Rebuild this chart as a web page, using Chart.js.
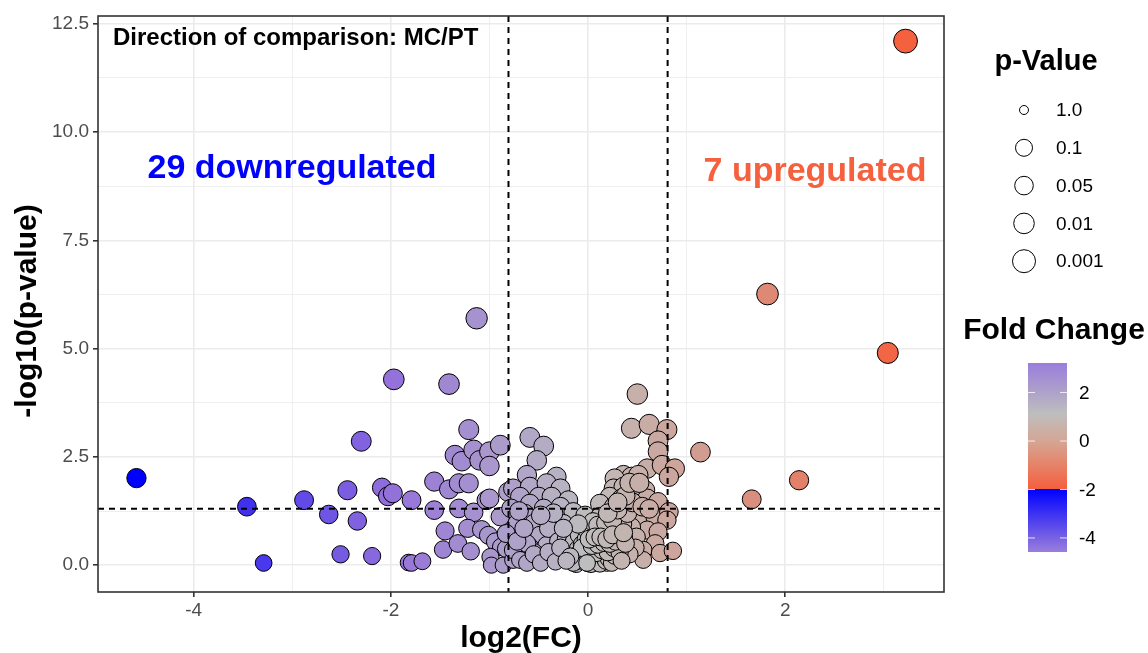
<!DOCTYPE html>
<html lang="en">
<head>
  <meta charset="UTF-8">
  <title>Volcano plot MC/PT</title>
  <script src="https://cdn.jsdelivr.net/npm/chart.js"></script>
  <style>
    html, body { margin: 0; padding: 0; background: #fff; }
    #wrap { width: 1148px; height: 653px; position: relative; }
  </style>
</head>
<body>
  <div id="wrap"><canvas id="volcano"></canvas></div>

  <script>
    // log2 fold change per feature
    const logFC = [
      3.22, 1.82, 3.04, 1.14, 2.14, 1.66, 0.50,
      -4.58, -3.46, -3.29, -2.88, -2.63, -2.44, -2.34, -2.30, -2.51, -2.19, -2.09, -2.03, -1.98,
      -1.97, -1.79, -1.82, -1.79, -1.68, -1.41, -1.13, -1.21,
      -1.56, -1.41, -1.31, -1.21, -1.56, -1.31, -1.16, -1.45, -1.22, -1.47, -1.32, -1.19,
      -1.35, -1.28, -1.16, -1.10, -1.00, -1.00, -0.89, -1.03, -1.00, -0.89,
      -1.08, -1.01, -0.94, -0.88, -0.99, -0.98, -0.86, -0.83, -0.81, -0.76,
      -0.59, -0.45, -0.52, -0.62, -0.32, -0.76, -0.59, -0.42, -0.28, -0.69, -0.50, -0.37, -0.20,
      -0.59, -0.78, -0.64, -0.45, -0.28, -0.15, -0.03, -0.72, -0.55, -0.39, -0.25,
      -0.83, -0.66, -0.49, -0.32, -0.15, -0.59, -0.42, -0.25, -0.76, -0.69, -0.52, -0.35, -0.22, -0.08,
      -0.45, -0.40, -0.35, -0.48, -0.55, -0.62, -0.70, -0.72, -0.65,
      0.44, 0.62, 0.80, 0.71, 0.71, 0.60, 0.75, 0.88, 0.82, 0.36, 0.44, 0.51, 0.27,
      0.26, 0.36, 0.46, 0.58, 0.22, 0.34, 0.48, 0.60, 0.71, 0.12, 0.26, 0.39,
      0.53, 0.68, 0.82, 0.80, 0.12, 0.32, 0.60, 0.44, 0.22, 0.71, 0.49, 0.68, 0.56, 0.73, 0.86, 0.56,
      0.36, 0.22, 0.32,
      -0.30, -0.26, -0.22, -0.20, -0.18, -0.15, -0.14, -0.12, -0.10, -0.09, -0.07, -0.06, -0.04,
      -0.03, -0.02, 0.00, 0.01, 0.02, 0.03, 0.04, 0.05, 0.06, 0.07, 0.08, 0.09, 0.10, 0.11, 0.12,
      0.13, 0.14, 0.15, 0.16, 0.17, 0.18, 0.19, 0.20, 0.21, 0.23, 0.24, 0.25, 0.27, 0.28, 0.30,
      0.31, 0.33, 0.35, -0.02, 0.05, -0.10, 0.10, 0.18, 0.25, -0.25, 0.40, 0.30, 0.20, 0.45,
      0.38, 0.30, 0.42, 0.52, 0.55, 0.62, 0.48, 0.42,
      -0.62, -0.55, -0.48, -0.40, -0.33, -0.28,
      -0.12, -0.08, -0.05, 0.00, 0.03, 0.06, 0.09, 0.12, 0.15, 0.18,
      0.21, 0.24, 0.27, -0.10, -0.04, 0.02, 0.08, 0.14, 0.20, 0.26,
      0.32, -0.06, 0.04, 0.10, 0.16, 0.22, 0.28, 0.01, 0.07, 0.13,
      0.19, 0.25, -0.15, -0.18, 0.34, 0.38, -0.22, 0.36,
      -0.01
    ];

    // -log10(p-value) per feature, same order
    const negLogP = [
      12.10, 6.26, 4.90, 2.61, 1.96, 1.52, 3.95,
      2.01, 1.35, 0.05, 1.50, 1.17, 1.73, 1.02, 2.86, 0.25, 0.21, 1.79, 1.59, 1.66,
      4.29, 1.50, 0.06, 0.05, 0.09, 4.18, 5.70, 3.13,
      1.93, 1.75, 1.89, 1.89, 1.27, 1.31, 1.22, 0.79, 0.85, 0.36, 0.50, 0.32,
      2.54, 2.40, 2.66, 2.42, 2.62, 2.29, 2.77, 1.50, 1.54, 1.12,
      0.82, 0.69, 0.54, 0.42, 0.19, 0.00, 0.00, 0.38, 1.69, 0.12,
      2.95, 2.75, 2.42, 2.08, 2.04, 1.77, 1.81, 1.89, 1.77, 1.58, 1.58, 1.58, 1.50,
      1.42, 1.31, 1.19, 1.31, 1.35, 1.23, 1.15, 0.96, 0.96, 1.04, 0.96,
      0.73, 0.65, 0.69, 0.73, 0.81, 0.42, 0.46, 0.50, 0.35, 0.12, 0.12, 0.19, 0.23, 0.12,
      0.20, 0.85, 1.20, 1.15, 0.30, 0.50, 1.25, 0.55, 0.85,
      3.16, 3.25, 3.13, 2.87, 2.62, 2.23, 2.31, 2.23, 2.04, 2.08, 2.04, 2.08, 2.00,
      1.77, 1.81, 1.77, 1.73, 1.58, 1.54, 1.54, 1.54, 1.46, 1.42, 1.35, 1.35,
      1.12, 1.12, 1.23, 1.04, 1.12, 1.12, 0.81, 0.88, 0.88, 0.77, 0.65, 0.50, 0.35, 0.28, 0.33, 0.12,
      0.65, 0.58, 0.35,
      0.55, 0.35, 0.62, 0.15, 0.42, 0.28, 0.55, 0.08, 0.38, 0.70, 0.20, 0.48, 0.10,
      0.32, 0.60, 0.04, 0.22, 0.42, 0.12, 0.68, 0.30, 0.05, 0.52, 0.18, 0.36, 0.08, 0.62, 0.26,
      0.45, 0.12, 0.78, 0.33, 0.55, 0.20, 0.05, 0.40, 0.68, 0.28, 0.12, 0.50, 0.85, 0.35, 0.18,
      0.62, 0.45, 0.95, 0.85, 1.00, 0.95, 0.92, 0.98, 1.05, 0.85, 1.20, 1.28, 1.20, 1.45,
      1.60, 1.45, 1.90, 1.90, 1.35, 1.30, 0.40, 0.25,
      0.05, 0.25, 0.05, 0.30, 0.08, 0.40,
      0.02, 0.10, 0.15, 0.12, 0.02, 0.20, 0.10, 0.03, 0.22, 0.10,
      0.15, 0.05, 0.22, 0.25, 0.30, 0.30, 0.28, 0.35, 0.30, 0.40,
      0.30, 0.40, 0.45, 0.48, 0.52, 0.50, 0.55, 0.60, 0.65, 0.65,
      0.60, 0.70, 0.05, 0.20, 0.10, 0.50, 0.10, 0.75,
      0.05
    ];

    const xTicks = [-4, -2, 0, 2];
    const xMinorTicks = [-3, -1, 1, 3];
    const yTicks = [0, 2.5, 5, 7.5, 10, 12.5];
    const yMinorTicks = [1.25, 3.75, 6.25, 8.75, 11.25];

    const fcCut = 0.807;   // fold change threshold (log2)
    const pCut = 1.301;    // -log10(0.05)

    const nDown = 29;
    const nUp = 7;

    const pLegendLabels = ['1.0', '0.1', '0.05', '0.01', '0.001'];
    const fcLegendTicks = [2, 0, -2, -4];

    const FONT = "'Liberation Sans', Arial, Helvetica, sans-serif";

    // colour ramp for the fill (by log2FC)
    const ramp = [
      [-4.58, [0, 0, 255]],
      [-2.0, [147, 112, 219]],
      [0.0, [190, 190, 190]],
      [3.22, [245, 97, 63]]
    ];
    function fcColor(v) {
      if (v <= ramp[0][0]) return 'rgb(' + ramp[0][1].join(',') + ')';
      for (let i = 1; i < ramp.length; i++) {
        if (v <= ramp[i][0]) {
          const t = (v - ramp[i - 1][0]) / (ramp[i][0] - ramp[i - 1][0]);
          const a = ramp[i - 1][1], b = ramp[i][1];
          const c = a.map((q, k) => Math.round(q + (b[k] - q) * t));
          return 'rgb(' + c.join(',') + ')';
        }
      }
      return 'rgb(' + ramp[ramp.length - 1][1].join(',') + ')';
    }

    function pointSize(y) {
      return 8.1 + 1.1 * Math.sqrt(Math.max(y, 0));
    }

    const points = logFC.map((x, i) => ({ x: x, y: negLogP[i] }));

    // extra drawing: panel border, dashed cut-offs, labels, legends
    const decorPlugin = {
      id: 'decor',
      afterDatasetsDraw(chart) {
        const { ctx, chartArea: a, scales } = chart;
        ctx.save();
        ctx.strokeStyle = '#000';
        ctx.lineWidth = 2;
        ctx.setLineDash([6, 5]);
        [-fcCut, fcCut].forEach(v => {
          const px = scales.x.getPixelForValue(v);
          ctx.beginPath();
          ctx.moveTo(px, a.top);
          ctx.lineTo(px, a.bottom);
          ctx.stroke();
        });
        const py = scales.y.getPixelForValue(pCut);
        ctx.beginPath();
        ctx.moveTo(a.left, py);
        ctx.lineTo(a.right, py);
        ctx.stroke();
        ctx.restore();
      },
      afterDraw(chart) {
        const { ctx, chartArea: a } = chart;
        ctx.save();
        // panel border
        ctx.strokeStyle = '#333';
        ctx.lineWidth = 1.6;
        ctx.strokeRect(a.left, a.top, a.right - a.left, a.bottom - a.top);

        // annotations
        ctx.textBaseline = 'middle';
        ctx.fillStyle = '#000';
        ctx.font = 'bold 24px ' + FONT;
        ctx.textAlign = 'left';
        ctx.fillText('Direction of comparison: MC/PT', 113, 38);

        ctx.font = 'bold 34px ' + FONT;
        ctx.textAlign = 'center';
        ctx.fillStyle = '#0000FF';
        ctx.fillText(nDown + ' downregulated', 292, 169);
        ctx.fillStyle = '#F5603E';
        ctx.fillText(nUp + ' upregulated', 815, 172);

        // axis titles
        ctx.fillStyle = '#000';
        ctx.font = 'bold 30px ' + FONT;
        ctx.fillText('log2(FC)', (a.left + a.right) / 2, 639);
        ctx.save();
        ctx.translate(28, 311);
        ctx.rotate(-Math.PI / 2);
        ctx.fillText('-log10(p-value)', 0, 0);
        ctx.restore();

        // p-value size legend
        ctx.font = 'bold 29px ' + FONT;
        ctx.fillText('p-Value', 1046, 62);
        const legR = [4.5, 8.5, 9.3, 10.3, 11.5];
        ctx.font = '19px ' + FONT;
        ctx.textAlign = 'left';
        pLegendLabels.forEach((lab, i) => {
          const cy = 110 + i * 37.8;
          ctx.beginPath();
          ctx.arc(1024, cy, legR[i], 0, Math.PI * 2);
          ctx.strokeStyle = '#000';
          ctx.lineWidth = 1;
          ctx.stroke();
          ctx.fillText(lab, 1056, cy + 1);
        });

        // fold change colour bar
        ctx.textAlign = 'center';
        ctx.font = 'bold 30px ' + FONT;
        ctx.fillText('Fold Change', 1054, 331);
        const bx = 1028, bw = 39, bt = 363, bb = 552;
        const g = ctx.createLinearGradient(0, bt, 0, bb);
        g.addColorStop(0, '#9A7EDC');
        g.addColorStop(0.14, '#AC9ECB');
        g.addColorStop(0.27, '#BEBEBE');
        g.addColorStop(0.42, '#D6A491');
        g.addColorStop(0.664, '#F5603E');
        g.addColorStop(0.666, '#0000FF');
        g.addColorStop(1, '#9A7EDC');
        ctx.fillStyle = g;
        ctx.fillRect(bx, bt, bw, bb - bt);
        const vMax = Math.max(...logFC), vMin = Math.min(...logFC);
        ctx.font = '19px ' + FONT;
        ctx.textAlign = 'left';
        fcLegendTicks.forEach(v => {
          const ty = bt + (vMax - v) / (vMax - vMin) * (bb - bt);
          ctx.strokeStyle = 'rgba(255,255,255,0.8)';
          ctx.lineWidth = 1;
          ctx.beginPath();
          ctx.moveTo(bx, ty); ctx.lineTo(bx + 7, ty);
          ctx.moveTo(bx + bw - 7, ty); ctx.lineTo(bx + bw, ty);
          ctx.stroke();
          ctx.fillStyle = '#000';
          ctx.fillText(String(v), 1079, ty + 1);
        });
        ctx.restore();
      }
    };

    const isMajor = (list, v) => list.some(t => Math.abs(t - v) < 1e-9);

    new Chart(document.getElementById('volcano').getContext('2d'), {
      type: 'scatter',
      data: {
        datasets: [{
          data: points,
          backgroundColor: c => fcColor(c.raw ? c.raw.x : 0),
          borderColor: '#000',
          borderWidth: 1,
          pointRadius: c => pointSize(c.raw ? c.raw.y : 0),
          pointHoverRadius: c => pointSize(c.raw ? c.raw.y : 0)
        }]
      },
      options: {
        responsive: true,
        maintainAspectRatio: false,
        animation: false,
        events: [],
        layout: { padding: { left: 0, top: 16, right: 204, bottom: 0 } },
        plugins: { legend: { display: false }, tooltip: { enabled: false } },
        scales: {
          x: {
            type: 'linear',
            min: -4.97,
            max: 3.61,
            afterBuildTicks: s => { s.ticks = xTicks.concat(xMinorTicks).map(v => ({ value: v })); },
            afterFit: s => { s.height = 61; },
            border: { display: false },
            grid: {
              color: '#EBEBEB',
              lineWidth: c => isMajor(xTicks, c.tick.value) ? 1.6 : 0.8,
              tickColor: c => isMajor(xTicks, c.tick.value) ? '#333' : 'rgba(0,0,0,0)',
              tickLength: 5,
              drawTicks: true
            },
            ticks: {
              autoSkip: false,
              maxRotation: 0,
              padding: 2,
              color: '#4D4D4D',
              font: { family: FONT, size: 19 },
              callback: v => isMajor(xTicks, v) ? String(v) : ''
            }
          },
          y: {
            type: 'linear',
            min: -0.62,
            max: 12.68,
            afterBuildTicks: s => { s.ticks = yTicks.concat(yMinorTicks).map(v => ({ value: v })); },
            afterFit: s => { s.width = 98; },
            border: { display: false },
            grid: {
              color: '#EBEBEB',
              lineWidth: c => isMajor(yTicks, c.tick.value) ? 1.6 : 0.8,
              tickColor: c => isMajor(yTicks, c.tick.value) ? '#333' : 'rgba(0,0,0,0)',
              tickLength: 5,
              drawTicks: true
            },
            ticks: {
              autoSkip: false,
              padding: 4,
              color: '#4D4D4D',
              font: { family: FONT, size: 19 },
              callback: v => isMajor(yTicks, v) ? v.toFixed(1) : ''
            }
          }
        }
      },
      plugins: [decorPlugin]
    });
  </script>
</body>
</html>
